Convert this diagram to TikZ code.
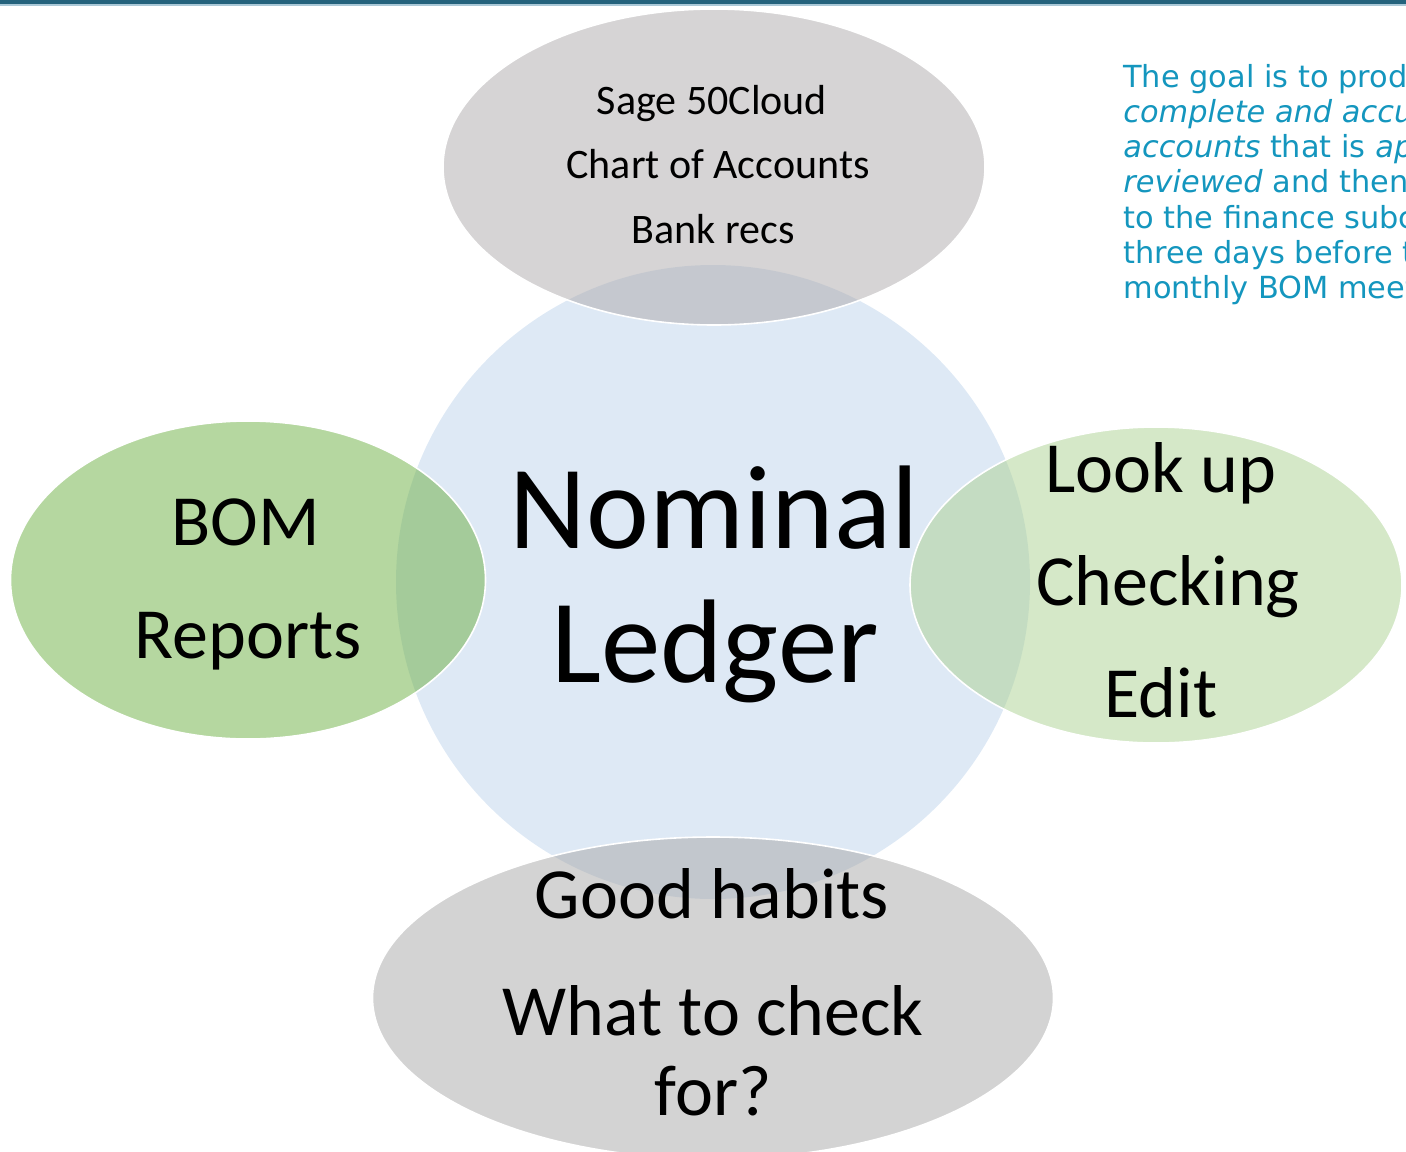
\documentclass[tikz,border=0pt]{standalone}
\usepackage{fontspec}
\setmainfont{Carlito}
\newfontfamily\notefont{DejaVu Sans}
\usepackage{tikz}
\usetikzlibrary{positioning, shapes.geometric}

\definecolor{circfill}{RGB}{222,233,245}
\definecolor{topfill}{RGB}{173,169,171}
\definecolor{botfill}{RGB}{167,167,167}
\definecolor{leftfill}{RGB}{107,175,65}
\definecolor{rightfill}{RGB}{171,209,145}
\definecolor{notecol}{RGB}{20,150,190}
\definecolor{barcol}{RGB}{36,98,124}
\definecolor{barlight}{RGB}{170,200,215}

\begin{document}
\begin{tikzpicture}[x=0.5pt,y=-0.5pt,
hub/.style={circle,fill=circfill,inner sep=0pt,minimum size=317pt},
petal/.style={ellipse,draw=white,line width=0.8pt,fill opacity=0.5,inner sep=0pt},
smalltxt/.style={anchor=base,inner sep=0pt,font=\fontsize{21pt}{25pt}\selectfont},
bigtxt/.style={anchor=base,inner sep=0pt,font=\fontsize{36pt}{43pt}\selectfont},
hubtxt/.style={anchor=base,inner sep=0pt,font=\fontsize{59.5pt}{70pt}\selectfont},
notetxt/.style={anchor=base west,inner sep=0pt,text=notecol,font=\notefont\fontsize{15.2pt}{18pt}\selectfont}
]
\useasboundingbox (0,0) rectangle (1406,1151);
\clip (0,0) rectangle (1406,1151);

% top rule
\fill[barcol] (0,0) rectangle (1406,4);
\draw[barlight,line width=0.6pt] (0,5) -- (1406,5);

% centre and petals
\node[hub] (ledger) at (713,582) {};
\node[petal,fill=topfill,minimum width=271pt,minimum height=158pt] (sage) at (714,167) {};
\node[petal,fill=leftfill,minimum width=237.5pt,minimum height=159pt] (bom) at (248,580) {};
\node[petal,fill=rightfill,minimum width=246pt,minimum height=158pt] (look) at (1156,585) {};
\node[petal,fill=botfill,minimum width=340.5pt,minimum height=161pt] (habits) at (713,998) {};

% texts
\node[hubtxt] (nom-1) at (714,548) {Nominal};
\node[hubtxt] (nom-2) at (715,682) {Ledger};
\foreach \txt/\xx/\yy [count=\i] in {Sage 50Cloud/712/114, Chart of Accounts/718/178, Bank recs/713/243}
  \node[smalltxt] (sage-\i) at (\xx,\yy) {\txt};
\foreach \txt/\xx/\yy [count=\i] in {BOM/246/545, Reports/248/658}
  \node[bigtxt] (bom-\i) at (\xx,\yy) {\txt};
\foreach \txt/\xx/\yy [count=\i] in {Look up/1161/492, Checking/1168/605, Edit/1161/717}
  \node[bigtxt] (look-\i) at (\xx,\yy) {\txt};
\foreach \txt/\xx/\yy [count=\i] in {Good habits/712/918, What to check/713/1035, for?/713/1115}
  \node[bigtxt] (habits-\i) at (\xx,\yy) {\txt};

% note at the right
\foreach \txt/\yy [count=\i] in {The goal is to produce/87, \textit{complete and accurate}/122,
  \textit{accounts} that is \textit{appropriately}/157, \textit{reviewed} and then/192,
  to the finance subcommittee/228, three days before the/263, monthly BOM meeting/298}
  \node[notetxt] (goal-\i) at (1123,\yy) {\txt};
\end{tikzpicture}
\end{document}
